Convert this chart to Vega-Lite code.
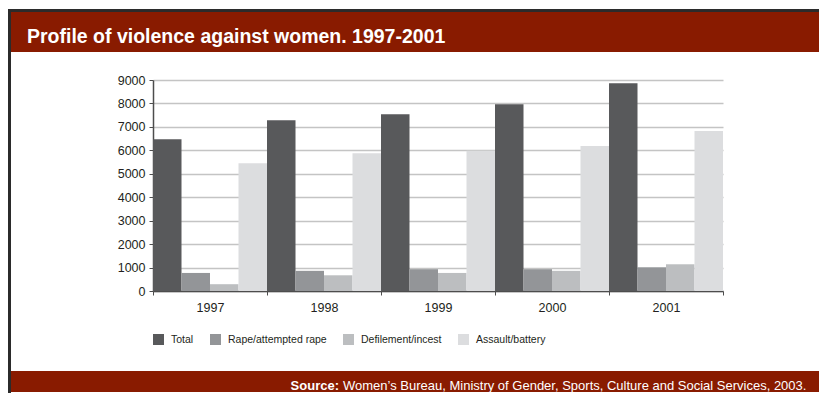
{
  "$schema": "https://vega.github.io/schema/vega-lite/v6.json",
  "background": "white",
  "padding": {"left": 8, "top": 9, "right": 0, "bottom": 0},
  "spacing": 0,
  "resolve": {"legend": {"color": "independent"}},
  "config": {
    "view": {"stroke": null},
    "font": "Liberation Sans",
    "axis": {
      "labelFont": "Liberation Sans",
      "labelFontSize": 12.5,
      "labelColor": "#231f20",
      "domainColor": "#4d4d4d",
      "domainWidth": 1.5,
      "tickColor": "#4d4d4d",
      "tickSize": 4,
      "title": null
    },
    "legend": {
      "labelFont": "Liberation Sans",
      "labelFontSize": 10.5,
      "labelColor": "#231f20"
    }
  },
  "datasets": {
    "cases": [
      {"year": "1997", "category": "Total", "cases": 6470},
      {"year": "1997", "category": "Rape/attempted rape", "cases": 770},
      {"year": "1997", "category": "Defilement/incest", "cases": 290},
      {"year": "1997", "category": "Assault/battery", "cases": 5450},
      {"year": "1998", "category": "Total", "cases": 7280},
      {"year": "1998", "category": "Rape/attempted rape", "cases": 860},
      {"year": "1998", "category": "Defilement/incest", "cases": 670},
      {"year": "1998", "category": "Assault/battery", "cases": 5880},
      {"year": "1999", "category": "Total", "cases": 7540},
      {"year": "1999", "category": "Rape/attempted rape", "cases": 930},
      {"year": "1999", "category": "Defilement/incest", "cases": 770},
      {"year": "1999", "category": "Assault/battery", "cases": 5980},
      {"year": "2000", "category": "Total", "cases": 7970},
      {"year": "2000", "category": "Rape/attempted rape", "cases": 930},
      {"year": "2000", "category": "Defilement/incest", "cases": 860},
      {"year": "2000", "category": "Assault/battery", "cases": 6180},
      {"year": "2001", "category": "Total", "cases": 8860},
      {"year": "2001", "category": "Rape/attempted rape", "cases": 1010},
      {"year": "2001", "category": "Defilement/incest", "cases": 1140},
      {"year": "2001", "category": "Assault/battery", "cases": 6820}
    ],
    "empty": []
  },
  "hconcat": [
    {
      "name": "frame_left",
      "width": 3,
      "height": 384,
      "view": {"fill": "#2b2b2b", "stroke": null},
      "data": {"name": "empty"},
      "mark": "text",
      "encoding": {}
    },
    {
      "spacing": 0,
      "resolve": {"legend": {"color": "independent"}},
      "vconcat": [
        {
          "name": "frame_top",
          "width": 808,
          "height": 3,
          "view": {"fill": "#2b2b2b", "stroke": null},
          "data": {"name": "empty"},
          "mark": "text",
          "encoding": {}
        },
        {
          "name": "heading",
          "width": 808,
          "height": 40,
          "view": {"fill": "#891b00", "stroke": null},
          "title": {
            "text": "Profile of violence against women. 1997-2001",
            "orient": "top",
            "anchor": "start",
            "frame": "group",
            "baseline": "alphabetic",
            "offset": -50.5,
            "dx": 16,
            "font": "Liberation Sans",
            "fontWeight": "bold",
            "fontSize": 19.5,
            "color": "white"
          },
          "data": {"name": "empty"},
          "mark": "text",
          "encoding": {}
        },
        {
          "name": "gap_above",
          "width": 808,
          "height": 22,
          "data": {"name": "empty"},
          "mark": "text",
          "encoding": {}
        },
        {
          "spacing": 0,
          "resolve": {"legend": {"color": "independent"}},
          "hconcat": [
            {
              "name": "gap_left",
              "width": 106,
              "height": 1,
              "data": {"name": "empty"},
              "mark": "text",
              "encoding": {}
            },
            {
              "name": "bars",
              "width": 570,
              "height": 211,
              "data": {"name": "cases"},
              "mark": {"type": "bar"},
              "encoding": {
                "x": {
                  "field": "year",
                  "type": "nominal",
                  "scale": {"paddingInner": 0, "paddingOuter": 0},
                  "axis": {
                    "labelAngle": 0,
                    "tickBand": "extent",
                    "labelPadding": 6,
                    "grid": false
                  }
                },
                "xOffset": {
                  "field": "category",
                  "type": "nominal",
                  "sort": ["Total", "Rape/attempted rape", "Defilement/incest", "Assault/battery"],
                  "scale": {"paddingInner": 0, "paddingOuter": 0}
                },
                "y": {
                  "field": "cases",
                  "type": "quantitative",
                  "scale": {"domain": [0, 9000], "nice": false},
                  "axis": {
                    "values": [0, 1000, 2000, 3000, 4000, 5000, 6000, 7000, 8000, 9000],
                    "format": "d",
                    "grid": true,
                    "gridColor": "#c4c4c4",
                    "gridWidth": 1.5,
                    "labelPadding": 4
                  }
                },
                "color": {
                  "field": "category",
                  "type": "nominal",
                  "sort": ["Total", "Rape/attempted rape", "Defilement/incest", "Assault/battery"],
                  "scale": {
                    "domain": ["Total", "Rape/attempted rape", "Defilement/incest", "Assault/battery"],
                    "range": ["#58595b", "#939598", "#bcbec0", "#dcdddf"]
                  },
                  "legend": {
                    "title": null,
                    "orient": "bottom",
                    "direction": "horizontal",
                    "symbolType": "square",
                    "symbolSize": 121,
                    "symbolStrokeWidth": 0,
                    "symbolOpacity": 1,
                    "labelOffset": 7,
                    "columnPadding": 16,
                    "offset": 20,
                    "padding": 0
                  }
                }
              }
            }
          ]
        },
        {
          "name": "gap_below",
          "width": 808,
          "height": 26,
          "data": {"name": "empty"},
          "mark": "text",
          "encoding": {}
        },
        {
          "spacing": 0,
          "hconcat": [
            {
              "name": "source_label",
              "width": 329,
              "height": 21,
              "view": {"fill": "#891b00", "stroke": null},
              "title": {
                "text": "Source:",
                "orient": "top",
                "anchor": "end",
                "frame": "group",
                "baseline": "alphabetic",
                "offset": -32,
                "dx": -1,
                "font": "Liberation Sans",
                "fontWeight": "bold",
                "fontSize": 13,
                "color": "white"
              },
              "data": {"name": "empty"},
              "mark": "text",
              "encoding": {}
            },
            {
              "name": "source_text",
              "width": 479,
              "height": 21,
              "view": {"fill": "#891b00", "stroke": null},
              "title": {
                "text": "Women’s Bureau, Ministry of Gender, Sports, Culture and Social Services, 2003.",
                "orient": "top",
                "anchor": "start",
                "frame": "group",
                "baseline": "alphabetic",
                "offset": -32,
                "dx": 3,
                "font": "Liberation Sans",
                "fontWeight": "normal",
                "fontSize": 13,
                "color": "white"
              },
              "data": {"name": "empty"},
              "mark": "text",
              "encoding": {}
            }
          ]
        }
      ]
    }
  ]
}
